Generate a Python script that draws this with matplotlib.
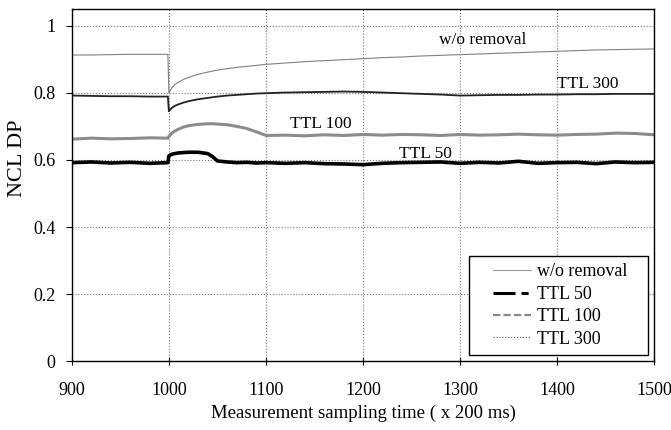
import matplotlib.pyplot as plt
from matplotlib.lines import Line2D
from matplotlib.legend_handler import HandlerLine2D

plt.rcParams['font.family'] = ['Liberation Serif', 'DejaVu Serif']

# sampling times (x 200 ms)
t = [900, 920, 940, 960, 980, 999, 1000, 1003, 1006, 1010, 1015, 1020, 1030,
     1040, 1045, 1050, 1060, 1070, 1080, 1090, 1100, 1120, 1140, 1160, 1180,
     1200, 1220, 1240, 1260, 1280, 1300, 1320, 1340, 1360, 1380, 1400, 1420,
     1440, 1460, 1480, 1500]

wo_removal = [0.913, 0.913, 0.914, 0.915, 0.915, 0.915, 0.800, 0.815, 0.825,
              0.832, 0.840, 0.846, 0.855, 0.862, 0.865, 0.868, 0.872, 0.876,
              0.879, 0.882, 0.885, 0.889, 0.893, 0.896, 0.899, 0.902, 0.905,
              0.907, 0.910, 0.912, 0.914, 0.916, 0.918, 0.920, 0.922, 0.924,
              0.926, 0.928, 0.929, 0.930, 0.931]

ttl50 = [0.592, 0.594, 0.591, 0.593, 0.590, 0.592, 0.612, 0.617, 0.619, 0.621,
         0.622, 0.623, 0.623, 0.619, 0.610, 0.597, 0.594, 0.592, 0.593, 0.591,
         0.592, 0.590, 0.592, 0.589, 0.588, 0.586, 0.590, 0.592, 0.593, 0.594,
         0.590, 0.593, 0.591, 0.596, 0.590, 0.592, 0.593, 0.589, 0.594, 0.592,
         0.593]

ttl100 = [0.662, 0.665, 0.663, 0.664, 0.666, 0.665, 0.670, 0.680, 0.686, 0.692,
          0.698, 0.702, 0.706, 0.708, 0.708, 0.707, 0.705, 0.700, 0.694, 0.684,
          0.673, 0.674, 0.672, 0.675, 0.673, 0.676, 0.674, 0.676, 0.675, 0.673,
          0.676, 0.674, 0.675, 0.677, 0.675, 0.674, 0.676, 0.677, 0.680, 0.679,
          0.675]

ttl300 = [0.792, 0.791, 0.790, 0.790, 0.789, 0.789, 0.745, 0.755, 0.761, 0.766,
          0.771, 0.775, 0.781, 0.785, 0.787, 0.789, 0.792, 0.794, 0.796, 0.798,
          0.799, 0.801, 0.802, 0.803, 0.804, 0.803, 0.801, 0.799, 0.797, 0.795,
          0.792, 0.793, 0.794, 0.794, 0.795, 0.795, 0.796, 0.796, 0.797, 0.797,
          0.797]

labels = ["w/o removal", "TTL 50", "TTL 100", "TTL 300"]

fig = plt.figure(figsize=(6.71, 4.30), dpi=100)
ax = fig.add_axes([0.107, 0.16, 0.868, 0.819])

ax.plot(t, wo_removal, color='#808080', lw=0.8)
ax.plot(t, ttl300, color='#222222', lw=1.3)
ax.plot(t, ttl100, color='#8c8c8c', lw=2.2)
ax.plot(t, ttl50, color='black', lw=2.6)

# inline labels
ax.text(1323, 0.958, "w/o removal", ha='center', va='center', fontsize=12.5)
ax.text(1432, 0.827, "TTL 300", ha='center', va='center', fontsize=12.5)
ax.text(1157, 0.708, "TTL 100", ha='center', va='center', fontsize=12.5)
ax.text(1264, 0.619, "TTL 50", ha='center', va='center', fontsize=12.5)

ax.set_xlim(900, 1500)
ax.set_ylim(0, 1.05)
ax.set_xticks([900, 1000, 1100, 1200, 1300, 1400, 1500])
ax.set_yticks([0, 0.2, 0.4, 0.6, 0.8, 1.0])
ax.set_yticklabels(["0", "0.2", "0.4", "0.6", "0.8", "1"])
ax.tick_params(axis='y', labelsize=13, direction='out', length=4, width=0.8, pad=8)
ax.tick_params(axis='x', labelsize=13, direction='inout', length=6, width=0.8, pad=12)
ax.grid(True, linestyle=':', color='#777777', lw=0.8)
for s in ax.spines.values():
    s.set_color('black')
    s.set_linewidth(1.0)

ax.set_xlabel("Measurement sampling time ( x 200 ms)", fontsize=13.5, labelpad=4)
ax.set_ylabel("NCL DP", fontsize=16)
ax.yaxis.set_label_coords(-0.077, 0.577)

handles = [
    Line2D([], [], color='#999999', lw=0.8),
    Line2D([], [], color='black', lw=2.2, dashes=(7.2, 2, 2.3, 2)),
    Line2D([], [], color='#888888', lw=1.6, dashes=(3.3, 1.4)),
    Line2D([], [], color='#555555', lw=0.8, linestyle=':'),
]
leg_labels = [s + "   " for s in labels]
hm = {h: HandlerLine2D(xpad=0.95) for h in handles}
leg = ax.legend(handles, leg_labels, loc='lower right', fontsize=13,
                frameon=True, fancybox=False, framealpha=1,
                edgecolor='black', handlelength=3.05, handletextpad=0.33,
                borderpad=0.4, labelspacing=0.3, borderaxespad=0.35,
                handler_map=hm)
leg.get_frame().set_linewidth(1.0)

fig.savefig("out.png", dpi=100)
